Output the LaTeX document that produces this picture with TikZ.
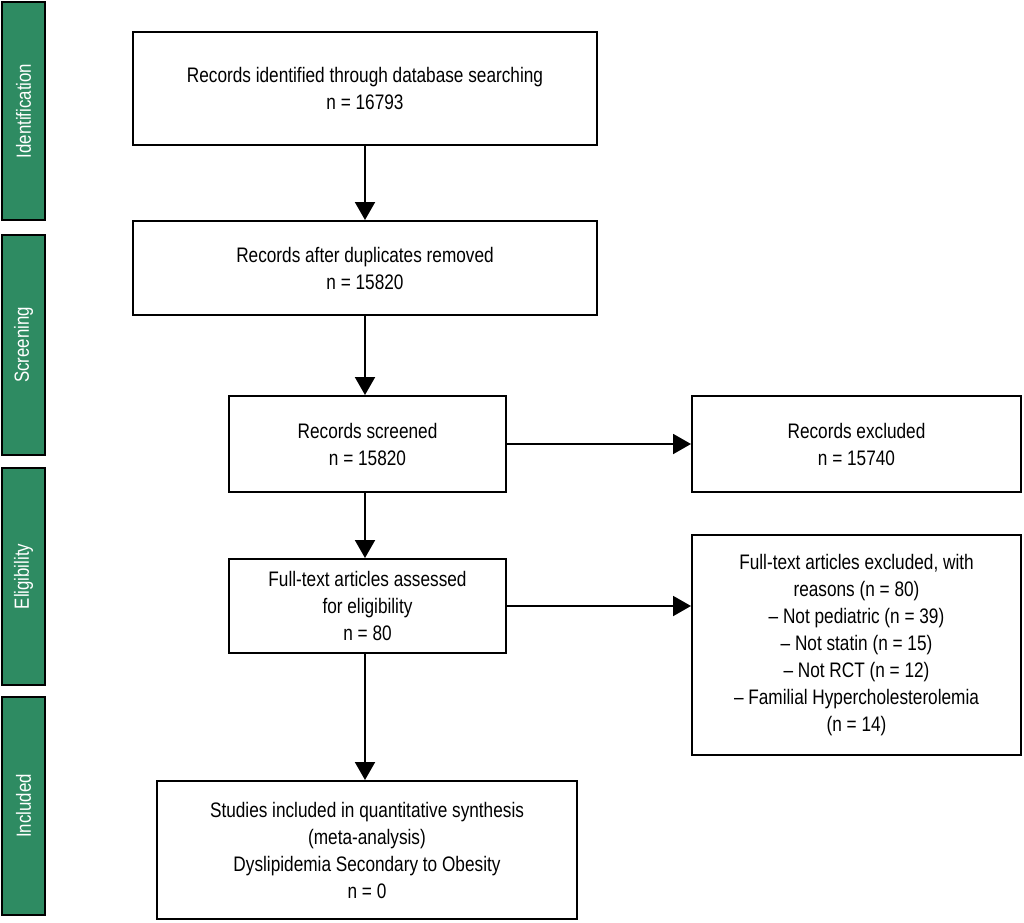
\documentclass[tikz,border=0pt]{standalone}
\usepackage{fontspec}
\setmainfont{Liberation Sans}[FakeStretch=0.82]
\usetikzlibrary{arrows.meta}
\definecolor{phase}{RGB}{46,139,98}
\begin{document}
\begin{tikzpicture}[x=1pt,y=-1pt,
  box/.style={draw=black,line width=2pt,fill=white,align=center,inner sep=0pt,
    font=\fontsize{21}{27}\selectfont},
  bar/.style={draw=black,line width=1.6pt,fill=phase,inner sep=0pt,rotate=90,
    minimum height=43pt,text=white,font=\fontsize{20.5}{22}\selectfont},
  arr/.style={line width=2pt,-{Triangle[length=18pt,width=20pt]}}]
\useasboundingbox (0,0) rectangle (1024,922);
% phase bars
\node[bar,minimum width=218pt] (pid) at (23.5,111) {Identification};
\node[bar,minimum width=220pt] (pscr) at (23.5,345) {Screening};
\node[bar,minimum width=217pt] (pel) at (23.5,576.5) {Eligibility};
\node[bar,minimum width=218pt] (pinc) at (23.5,806) {Included};
% boxes
\node[box,minimum width=464pt,minimum height=113pt] (id) at (365,88.5)
  {Records identified through database searching\\n = 16793};
\node[box,minimum width=464pt,minimum height=94pt] (dup) at (365,268)
  {Records after duplicates removed\\n = 15820};
\node[box,minimum width=277pt,minimum height=96pt] (scr) at (367.5,444)
  {Records screened\\n = 15820};
\node[box,minimum width=329pt,minimum height=96pt] (exc) at (856.5,444)
  {Records excluded\\n = 15740};
\node[box,minimum width=277pt,minimum height=94pt] (ft) at (367.5,606)
  {Full-text articles assessed\\for eligibility\\n = 80};
\node[box,minimum width=329pt,minimum height=220pt] (ftex) at (856.5,645)
  {Full-text articles excluded, with\\reasons (n = 80)\\– Not pediatric (n = 39)\\– Not statin (n = 15)\\– Not RCT (n = 12)\\– Familial Hypercholesterolemia\\(n = 14)};
\node[box,minimum width=420pt,minimum height=138pt] (inc) at (367,850)
  {Studies included in quantitative synthesis\\(meta-analysis)\\Dyslipidemia Secondary to Obesity\\n = 0};
% arrows
\draw[arr] (id.south) -- (dup.north);
\draw[arr] (dup.south) -- (dup.south |- scr.north);
\draw[arr] (dup.south |- scr.south) -- (dup.south |- ft.north);
\draw[arr] (dup.south |- ft.south) -- (dup.south |- inc.north);
\draw[arr] (scr.east) -- (exc.west);
\draw[arr] (ft.east) -- (ft.east -| ftex.west);
\end{tikzpicture}
\end{document}
